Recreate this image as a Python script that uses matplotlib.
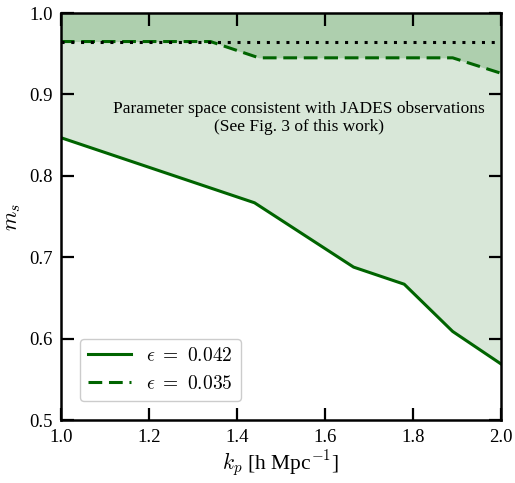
import matplotlib
matplotlib.use('Agg')
import matplotlib.pyplot as plt

plt.rcParams['font.family'] = ['Liberation Serif', 'DejaVu Serif']
plt.rcParams['mathtext.fontset'] = 'cm'

# solid line: eps = 0.042
kp_a = [1.0, 1.44, 1.665, 1.78, 1.89, 2.0]
ms_a = [0.847, 0.767, 0.688, 0.667, 0.609, 0.569]
# dashed line: eps = 0.035
kp_b = [1.0, 1.34, 1.45, 1.89, 2.0]
ms_b = [0.965, 0.965, 0.945, 0.945, 0.926]
ms_dot = 0.965

fig = plt.figure(figsize=(5.15, 4.83), dpi=100)
ax = fig.add_axes([0.118, 0.130, 0.855, 0.843])

ax.fill_between(kp_a, ms_a, 1.0, color='#d8e7d8', lw=0)
ax.fill_between(kp_b, ms_b, 1.0, color='#aecfae', lw=0)
ax.plot(kp_a, ms_a, color='#006400', lw=2.2, label=r'$\epsilon\ =\ 0.042$')
ax.plot(kp_b, ms_b, color='#006400', lw=2.2, ls=(0, (4.5, 2.2)), label=r'$\epsilon\ =\ 0.035$')
ax.axhline(ms_dot, color='black', lw=2.2, ls=(0, (1, 2.2)))

ax.text(1.54, 0.871, 'Parameter space consistent with JADES observations\n(See Fig. 3 of this work)',
        ha='center', va='center', fontsize=12.5, linespacing=1.15)

ax.set_xlim(1.0, 2.0); ax.set_ylim(0.5, 1.0)
ax.set_xticks([1.0, 1.2, 1.4, 1.6, 1.8, 2.0])
ax.set_yticks([0.5, 0.6, 0.7, 0.8, 0.9, 1.0])
ax.tick_params(direction='in', top=True, right=True, length=9, width=1.6, labelsize=13.5, pad=6)
for s in ax.spines.values():
    s.set_linewidth(1.8)
ax.set_xlabel(r'$k_p$ [h Mpc$^{-1}$]', fontsize=15.5, labelpad=2)
ax.set_ylabel(r'$m_s$', fontsize=16)
ax.legend(loc='lower left', fontsize=14, frameon=True, edgecolor='#cccccc', fancybox=True,
          handlelength=2.2, borderaxespad=1.0, framealpha=1)

fig.savefig('out.png', dpi=100)
